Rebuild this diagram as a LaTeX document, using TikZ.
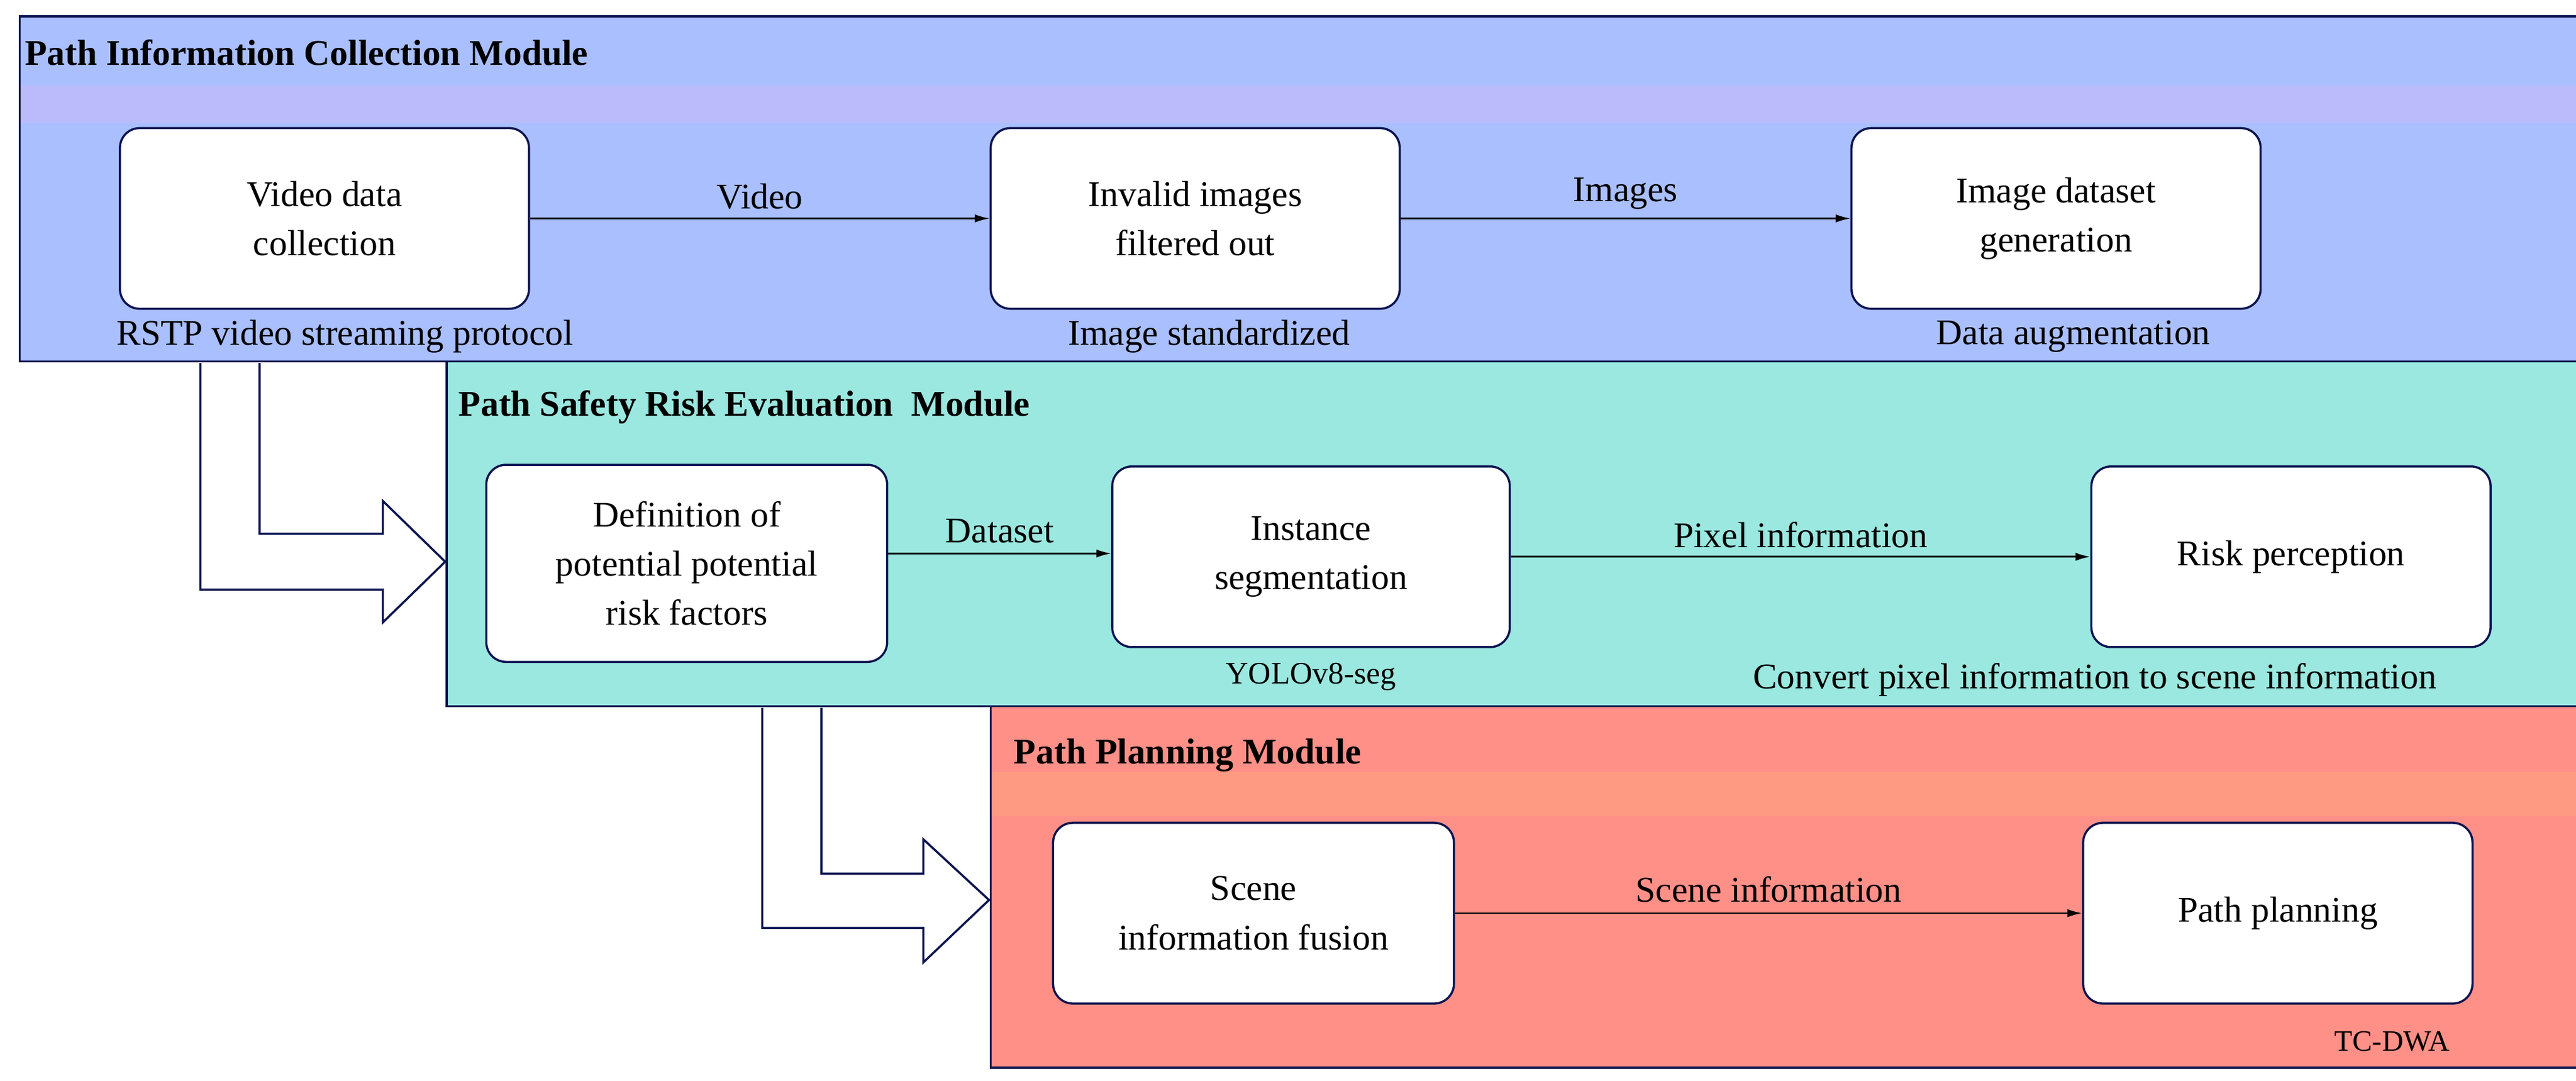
\documentclass[tikz,border=0pt]{standalone}
\usepackage{fontspec}
\setmainfont{Liberation Serif}
\usetikzlibrary{arrows.meta}
\definecolor{navy}{HTML}{0B1450}
\definecolor{blueF}{HTML}{AABFFE}
\definecolor{blueB}{HTML}{BBBBFC}
\definecolor{tealF}{HTML}{9BE8E0}
\definecolor{redF}{HTML}{FF9088}
\definecolor{redB}{HTML}{FF9A82}
\begin{document}
\begin{tikzpicture}[x=1pt,y=-1pt,
  box/.style={draw=navy,line width=1.3pt,fill=white,rounded corners=12pt,align=center,
    font=\fontsize{22}{30}\selectfont,inner sep=0pt},
  lab/.style={font=\fontsize{22}{26}\selectfont,inner sep=1pt},
  ttl/.style={font=\fontsize{22}{26}\selectfont\bfseries,anchor=west,inner sep=0pt},
  con/.style={line width=1pt,-{Latex[length=9pt,width=5pt]}},
  frame/.style={draw=navy,line width=1.3pt},
  blk/.style={draw=navy,line width=1.3pt,fill=white,line join=miter}]
\useasboundingbox (0,0) rectangle (1568,658);
% module frames
\fill[blueF] (12,10) rectangle (1568,220);
\fill[blueB] (12,52) rectangle (1568,75);
\draw[frame] (1568,10) -- (12,10) -- (12,220) -- (1568,220);
\fill[tealF] (272,220) rectangle (1568,430);
\draw[frame] (1568,220) -- (272,220) -- (272,430) -- (1568,430);
\fill[redF] (603,430) rectangle (1568,650);
\fill[redB] (603,470) rectangle (1568,497);
\draw[frame] (1568,430) -- (603,430) -- (603,650) -- (1568,650);
% block arrows
\draw[blk] (122,221) -- (122,359) -- (233,359) -- (233,379) -- (271,342) -- (233,305) -- (233,325) -- (158,325) -- (158,221);
\draw[blk] (464,431) -- (464,565) -- (562,565) -- (562,586) -- (602,548) -- (562,511) -- (562,532) -- (500,532) -- (500,431);
% titles
\node[ttl] (t1) at (15,32) {Path Information Collection Module};
\node[ttl] (t2) at (279,248) {Path Safety Risk Evaluation\ \ Module};
\node[ttl] (t3) at (617,460) {Path Planning Module};
% nodes
\node[box,minimum width=249pt,minimum height=110pt] (v) at (197.5,133) {Video data\\collection};
\node[box,minimum width=249pt,minimum height=110pt] (f) at (727.5,133) {Invalid images\\filtered out};
\node[box,minimum width=249pt,minimum height=110pt] (g) at (1251.5,133) {Image dataset\\generation};
\node[box,minimum width=244pt,minimum height=120pt] (d) at (418,343) {Definition of\\potential potential\\risk factors};
\node[box,minimum width=242pt,minimum height=110pt] (s) at (798,339) {Instance\\segmentation};
\node[box,minimum width=243pt,minimum height=110pt] (r) at (1394.5,339) {Risk perception};
\node[box,minimum width=244pt,minimum height=110pt] (fu) at (763,556) {Scene\\information fusion};
\node[box,minimum width=237pt,minimum height=110pt] (p) at (1386.5,556) {Path planning};
% captions
\node[lab] (c1) at (210,205) {RSTP video streaming protocol};
\node[lab] (c2) at (736,205) {Image standardized};
\node[lab] (c3) at (1262,205) {Data augmentation};
\node[lab,font=\fontsize{19}{22}\selectfont] (c4) at (798,412) {YOLOv8-seg};
\node[lab] (c5) at (1275,414) {Convert pixel information to scene information};
\node[lab,font=\fontsize{18}{22}\selectfont] (c6) at (1456,634) {TC-DWA};
% connectors
\draw[con] (v) -- node[lab,above=4pt] {Video} (f);
\draw[con] (f) -- node[lab,above=4pt] {Images} (g);
\draw[con] (d.east) ++(0,-6) -- node[lab,above=5pt] {Dataset} (s.west|-337,337);
\draw[con] (s) -- node[lab,above=4pt] {Pixel information} (r);
\draw[con] (fu) -- node[lab,above=5pt] {Scene information} (p);
\end{tikzpicture}
\end{document}
